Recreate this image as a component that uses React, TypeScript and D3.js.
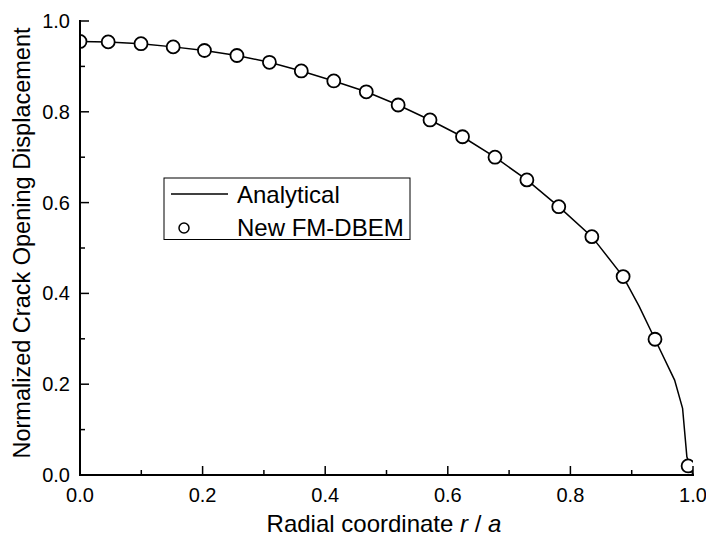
import React from "react";
import * as d3 from "d3";

const markerR = [0, 0.046, 0.0995, 0.152, 0.203, 0.256, 0.309, 0.361, 0.414, 0.467, 0.519, 0.571, 0.624, 0.677, 0.729, 0.781, 0.835, 0.886, 0.938, 0.992];
const markerCOD = [0.955, 0.954, 0.950, 0.943, 0.935, 0.924, 0.909, 0.890, 0.868, 0.844, 0.815, 0.782, 0.745, 0.700, 0.650, 0.591, 0.525, 0.437, 0.299, 0.020];

const lineR = [0, 0.046, 0.0995, 0.152, 0.203, 0.256, 0.309, 0.361, 0.414, 0.467, 0.519, 0.571, 0.624, 0.677, 0.729, 0.781, 0.835, 0.886, 0.912, 0.938, 0.970, 0.983, 0.990, 1.0];
const lineCOD = [0.955, 0.954, 0.950, 0.943, 0.935, 0.924, 0.909, 0.890, 0.868, 0.844, 0.815, 0.782, 0.745, 0.700, 0.650, 0.591, 0.525, 0.437, 0.372, 0.299, 0.209, 0.147, 0.040, 0.0];

const majorTicks = [0, 0.2, 0.4, 0.6, 0.8, 1.0];
const minorTicks = [0.1, 0.3, 0.5, 0.7, 0.9];
const legendLabels = ["Analytical", "New FM-DBEM"];

const W = 706, H = 541;
const X0 = 80, X1 = 693, Y0 = 475, Y1 = 21;
const FONT = "'Liberation Sans', Arial, Helvetica, sans-serif";

export default function App() {
  const x = d3.scaleLinear().domain([0, 1]).range([X0, X1]);
  const y = d3.scaleLinear().domain([0, 1]).range([Y0, Y1]);
  const line = d3.line<number>().x((_, i) => x(lineR[i])).y((d) => y(d));
  const fmt = d3.format(".1f");

  return (
    <svg width={W} height={H} style={{ position: "absolute", left: 0, top: 0, background: "#fff" }}>
      <defs>
        <clipPath id="plotclip">
          <rect x={X0} y={0} width={X1 - X0} height={Y0} />
        </clipPath>
      </defs>
      <rect width={W} height={H} fill="#fff" />
      {/* data */}
      <path d={line(lineCOD) || ""} fill="none" stroke="#000" strokeWidth={1.5} />
      <g clipPath="url(#plotclip)">
        {markerCOD.map((v, i) => (
          <circle key={i} cx={x(markerR[i])} cy={y(v)} r={6.5} fill="#fff" stroke="#000" strokeWidth={1.8} />
        ))}
      </g>
      {/* axes */}
      <line x1={X0} x2={X1 + 1} y1={Y0} y2={Y0} stroke="#000" strokeWidth={2} />
      <line x1={X0} x2={X0} y1={Y1 - 1} y2={Y0 + 1} stroke="#000" strokeWidth={2} />
      {majorTicks.map((t) => (
        <g key={"mx" + t}>
          <line x1={x(t)} x2={x(t)} y1={Y0} y2={Y0 - 9} stroke="#000" strokeWidth={1.5} />
          <text x={x(t)} y={Y0 + 27} textAnchor="middle" fontFamily={FONT} fontSize={20}>{fmt(t)}</text>
          <line x1={X0} x2={X0 + 9} y1={y(t)} y2={y(t)} stroke="#000" strokeWidth={1.5} />
          <text x={X0 - 10} y={y(t) + 7} textAnchor="end" fontFamily={FONT} fontSize={20}>{fmt(t)}</text>
        </g>
      ))}
      {minorTicks.map((t) => (
        <g key={"mn" + t}>
          <line x1={x(t)} x2={x(t)} y1={Y0} y2={Y0 - 5} stroke="#000" strokeWidth={1.5} />
          <line x1={X0} x2={X0 + 5} y1={y(t)} y2={y(t)} stroke="#000" strokeWidth={1.5} />
        </g>
      ))}
      {/* axis titles */}
      <text x={384} y={532} textAnchor="middle" fontFamily={FONT} fontSize={24}>
        Radial coordinate <tspan fontStyle="italic">r</tspan> / <tspan fontStyle="italic">a</tspan>
      </text>
      <text transform={`translate(30,243) rotate(-90)`} textAnchor="middle" fontFamily={FONT} fontSize={23.5}>
        Normalized Crack Opening Displacement
      </text>
      {/* legend */}
      <g>
        <rect x={164} y={178} width={246} height={61.5} fill="#fff" stroke="#000" strokeWidth={1} />
        <line x1={171} x2={228} y1={194} y2={194} stroke="#000" strokeWidth={1.5} />
        <text x={237} y={203} fontFamily={FONT} fontSize={24}>{legendLabels[0]}</text>
        <circle cx={184} cy={228} r={5} fill="#fff" stroke="#000" strokeWidth={1.5} />
        <text x={237} y={236} fontFamily={FONT} fontSize={24}>{legendLabels[1]}</text>
      </g>
    </svg>
  );
}
